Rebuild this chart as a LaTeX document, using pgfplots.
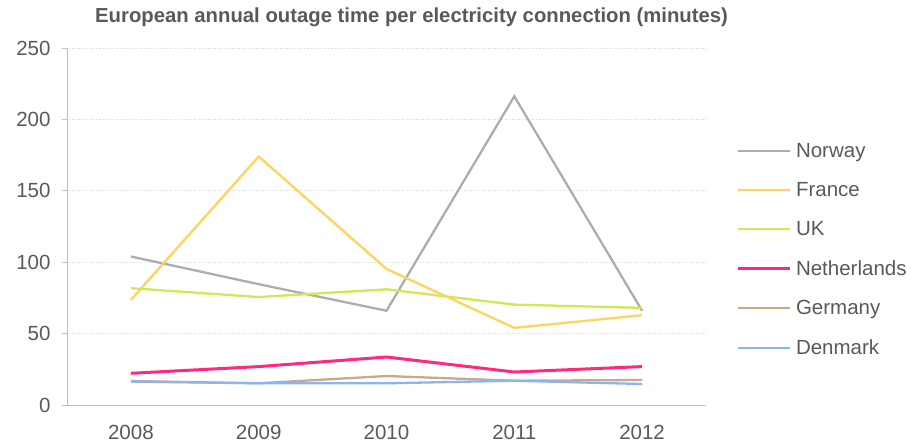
\documentclass[border=0pt]{standalone}
\usepackage{pgfplots}
\pgfplotsset{compat=1.18}
\usepackage{fontspec}
\setmainfont{Liberation Sans}
\definecolor{txt}{HTML}{595959}
\definecolor{axgray}{HTML}{BFBFBF}
\definecolor{gridc}{HTML}{D9D9D9}
\definecolor{cNor}{HTML}{ADADAD}
\definecolor{cFra}{HTML}{FFD35C}
\definecolor{cUK}{HTML}{D6E552}
\definecolor{cNet}{HTML}{FF2A7F}
\definecolor{cGer}{HTML}{C9A987}
\definecolor{cDen}{HTML}{8CB4F5}
\begin{document}
\begin{tikzpicture}
\useasboundingbox (0,0) rectangle (913bp,444bp);
\node[anchor=west, inner sep=0pt, text=txt, font=\fontsize{20.3bp}{22bp}\selectfont\bfseries] at (95bp,427bp) {European annual outage time per electricity connection (minutes)};
\begin{axis}[
  at={(67bp,39bp)}, anchor=south west,
  width=639bp, height=357bp, scale only axis,
  xmin=-0.5, xmax=4.5, ymin=0, ymax=250,
  axis x line*=bottom, axis y line*=left,
  axis line style={draw=axgray, line width=0.8bp, -},
  xtick={0,1,2,3,4},
  xticklabels={2008,2009,2010,2011,2012},
  minor xtick={-0.5,0.5,1.5,2.5,3.5,4.5},
  xtick style={draw=none},
  minor tick style={draw=axgray, line width=0.8bp},
  minor tick length=7bp,
  ytick={0,50,100,150,200,250},
  ytick style={draw=axgray, line width=0.8bp},
  major tick length=5bp,
  tick align=outside,
  ymajorgrids, grid style={draw=gridc, dotted, line width=0.8bp},
  tick label style={font=\fontsize{20.5bp}{22bp}\selectfont, text=txt},
  xticklabel style={yshift=-12bp},
  yticklabel style={xshift=-8bp},
  /pgf/number format/assume math mode=true,
  legend style={at={(1.042,0.745)}, anchor=north west, draw=none, fill=none,
     font=\fontsize{20.5bp}{22bp}\selectfont, text=txt, row sep=19.5bp},
  legend cell align=left,
  legend image code/.code={\draw[#1] (0bp,0bp) -- (52bp,0bp); \path (55bp,0bp);},
  every axis plot/.append style={line width=2.3bp},
]
\addplot[cNor] coordinates {(0,104) (1,84.6) (2,66) (3,216.2) (4,66)};
\addlegendentry{Norway}
\addplot[cFra] coordinates {(0,73.6) (1,174) (2,95.3) (3,54) (4,62.9)};
\addlegendentry{France}
\addplot[cUK] coordinates {(0,81.8) (1,75.6) (2,81) (3,70.3) (4,68)};
\addlegendentry{UK}
\addplot[cNet, line width=3bp] coordinates {(0,22.2) (1,26.9) (2,33.6) (3,23.1) (4,26.9)};
\addlegendentry{Netherlands}
\addplot[cGer] coordinates {(0,16.8) (1,15.2) (2,20.3) (3,17) (4,17.5)};
\addlegendentry{Germany}
\addplot[cDen] coordinates {(0,16.4) (1,15.2) (2,15.2) (3,17) (4,14.7)};
\addlegendentry{Denmark}
\end{axis}
\end{tikzpicture}
\end{document}
